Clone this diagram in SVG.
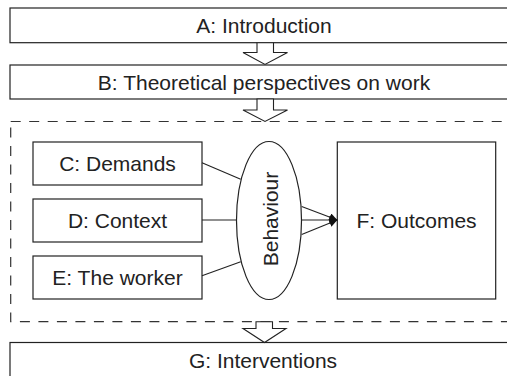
<svg xmlns="http://www.w3.org/2000/svg" width="507" height="376" viewBox="0 0 507 376">
  <style>
    .box { fill: #fff; stroke: #222; stroke-width: 1.2; }
    .frame { fill: none; stroke: #333; stroke-width: 1.2; stroke-dasharray: 10 8.5; }
    .flow { fill: #fff; stroke: #222; stroke-width: 1.1; stroke-linejoin: miter; }
    .link { fill: none; stroke: #222; stroke-width: 1.1; }
    .label { font-family: "Liberation Sans", Arial, sans-serif; font-size: 21px; fill: #222; text-anchor: middle; }
  </style>
  <defs>
    <marker id="head" viewBox="0 0 10 10" refX="10" refY="5" markerWidth="8" markerHeight="8" markerUnits="userSpaceOnUse" orient="auto">
      <path d="M0,0 L10,5 L0,10 z" fill="#111"/>
    </marker>
  </defs>

  <!-- section frame around C-F -->
  <rect id="frame" class="frame" x="10.7" y="121.5" width="520" height="200.2"/>

  <g id="nodeA">
    <rect class="box" x="10" y="8" width="515" height="34.7"/>
    <text class="label" x="264" y="33">A: Introduction</text>
  </g>
  <g id="nodeB">
    <rect class="box" x="10" y="65" width="515" height="34"/>
    <text class="label" x="264" y="89.5">B: Theoretical perspectives on work</text>
  </g>
  <g id="nodeC">
    <rect class="box" x="33" y="142" width="169" height="43"/>
    <text class="label" x="117.5" y="171">C: Demands</text>
  </g>
  <g id="nodeD">
    <rect class="box" x="33" y="199" width="169" height="43"/>
    <text class="label" x="117.5" y="228">D: Context</text>
  </g>
  <g id="nodeE">
    <rect class="box" x="33" y="256" width="169" height="43"/>
    <text class="label" x="117.5" y="285">E: The worker</text>
  </g>
  <g id="behaviour">
    <ellipse class="box" cx="269" cy="220.5" rx="32.5" ry="79"/>
    <text class="label" transform="translate(277.5,219) rotate(-90)">Behaviour</text>
  </g>
  <g id="nodeF">
    <rect class="box" x="337.3" y="142" width="158.4" height="157"/>
    <text class="label" x="416.5" y="228">F: Outcomes</text>
  </g>
  <g id="nodeG">
    <rect class="box" x="10" y="342.5" width="515" height="50"/>
    <text class="label" x="263" y="367.5">G: Interventions</text>
  </g>

  <g id="connectors">
    <!-- block arrows between sections -->
    <polygon class="flow" points="257,42.7 257,52.5 243,52.5 265,64.5 287.5,52.5 273.5,52.5 273.5,42.7"/>
    <polygon class="flow" points="257,99 257,110 243,110 265,121.5 287.5,110 273.5,110 273.5,99"/>
    <polygon class="flow" points="256,321.7 256,328.5 243,328.5 264.5,342.5 286,328.5 272.5,328.5 272.5,321.7"/>
    <!-- inputs into behaviour -->
    <line class="link" x1="202" y1="162.7" x2="240.7" y2="179.3"/>
    <line class="link" x1="202" y1="220" x2="236.5" y2="220"/>
    <line class="link" x1="202" y1="275.7" x2="240.7" y2="261.7"/>
    <!-- behaviour to outcomes -->
    <line class="link" x1="301.7" y1="206.5" x2="337.3" y2="220" marker-end="url(#head)"/>
    <line class="link" x1="301.5" y1="220" x2="337.3" y2="220" marker-end="url(#head)"/>
    <line class="link" x1="301.7" y1="234.5" x2="337.3" y2="220" marker-end="url(#head)"/>
  </g>
</svg>
